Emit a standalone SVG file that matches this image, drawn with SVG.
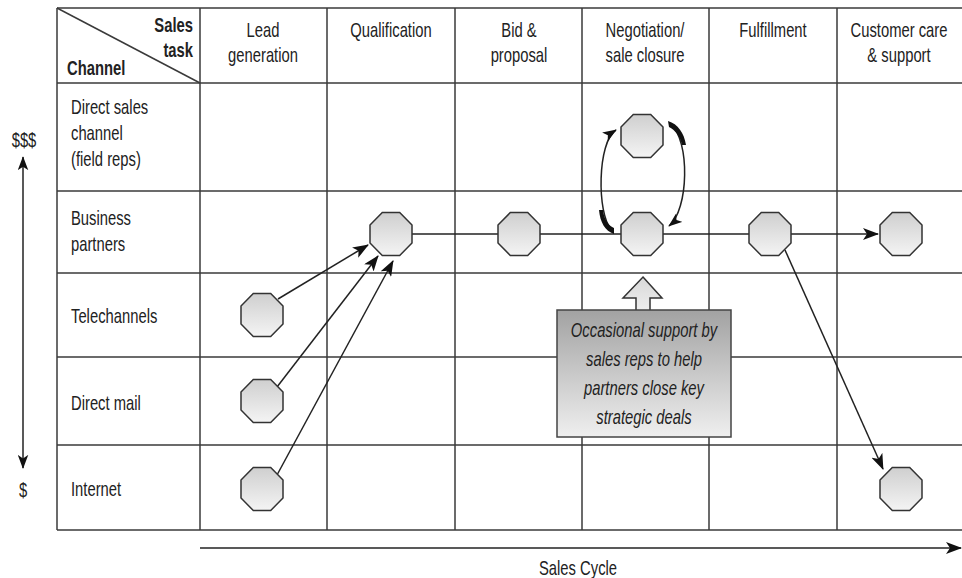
<svg xmlns="http://www.w3.org/2000/svg" xmlns:xlink="http://www.w3.org/1999/xlink" width="962" height="578" viewBox="0 0 962 578">
<style>
  .t { font-family: "Liberation Sans", Arial, sans-serif; font-size: 20px; fill: #222; }
  .b { font-weight: bold; }
  .c { text-anchor: middle; }
  .r { text-anchor: end; }
  .i { font-style: italic; }
  .grid { stroke: #3a3a3a; stroke-width: 1.5; fill: none; }
  .conn { stroke: #222; stroke-width: 1.5; fill: none; }
  .oct { fill: url(#octGrad); stroke: #333; stroke-width: 1.5; }
</style>
<defs>
  <linearGradient id="octGrad" x1="0" y1="0" x2="0" y2="1">
    <stop offset="0" stop-color="#cfcfcf"/>
    <stop offset="1" stop-color="#f4f4f4"/>
  </linearGradient>
  <linearGradient id="boxGrad" x1="0" y1="0" x2="0" y2="1">
    <stop offset="0" stop-color="#a2a2a2"/>
    <stop offset="1" stop-color="#efefef"/>
  </linearGradient>
  <linearGradient id="arrGrad" x1="0" y1="0" x2="0" y2="1">
    <stop offset="0" stop-color="#d8d8d8"/>
    <stop offset="1" stop-color="#eeeeee"/>
  </linearGradient>
  <polygon id="octagon" class="oct" points="-8.7,-21.5 8.7,-21.5 21,-8.9 21,8.9 8.7,21.5 -8.7,21.5 -21,8.9 -21,-8.9"/>
  <marker id="ah" viewBox="0 0 16 12" refX="15" refY="6" markerWidth="16" markerHeight="12" markerUnits="userSpaceOnUse" orient="auto-start-reverse">
    <path d="M0,0 L16,6 L0,12 L4,6 Z" fill="#111"/>
  </marker>
  <marker id="ahs" viewBox="0 0 16 12" refX="15" refY="6" markerWidth="14" markerHeight="11" markerUnits="userSpaceOnUse" orient="auto-start-reverse">
    <path d="M0,0 L16,6 L0,12 L4,6 Z" fill="#111"/>
  </marker>
</defs>

<rect x="0" y="0" width="962" height="578" fill="#fff"/>

<g id="grid">
  <line class="grid" x1="57" y1="8" x2="962" y2="8"/>
  <line class="grid" x1="57" y1="83" x2="962" y2="83"/>
  <line class="grid" x1="57" y1="191" x2="962" y2="191"/>
  <line class="grid" x1="57" y1="273" x2="962" y2="273"/>
  <line class="grid" x1="57" y1="357" x2="962" y2="357"/>
  <line class="grid" x1="57" y1="445" x2="962" y2="445"/>
  <line class="grid" x1="57" y1="530" x2="962" y2="530" stroke-width="2"/>
  <line class="grid" x1="57" y1="8" x2="57" y2="530"/>
  <line class="grid" x1="200" y1="8" x2="200" y2="530"/>
  <line class="grid" x1="327" y1="8" x2="327" y2="530"/>
  <line class="grid" x1="455" y1="8" x2="455" y2="530"/>
  <line class="grid" x1="582" y1="8" x2="582" y2="530"/>
  <line class="grid" x1="709" y1="8" x2="709" y2="530"/>
  <line class="grid" x1="837" y1="8" x2="837" y2="530"/>
  <line class="grid" x1="57" y1="8" x2="200" y2="83" stroke-width="1.2"/>
</g>

<g id="headers">
  <text class="t b r" transform="translate(193,32) scale(0.74,1)">Sales</text>
  <text class="t b r" transform="translate(193,57) scale(0.74,1)">task</text>
  <text class="t b" transform="translate(67,75) scale(0.74,1)">Channel</text>
  <text class="t c" transform="translate(263,37) scale(0.74,1)">Lead</text>
  <text class="t c" transform="translate(263,62) scale(0.74,1)">generation</text>
  <text class="t c" transform="translate(391,37) scale(0.74,1)">Qualification</text>
  <text class="t c" transform="translate(519,37) scale(0.74,1)">Bid &amp;</text>
  <text class="t c" transform="translate(519,62) scale(0.74,1)">proposal</text>
  <text class="t c" transform="translate(645,37) scale(0.74,1)">Negotiation/</text>
  <text class="t c" transform="translate(645,62) scale(0.74,1)">sale closure</text>
  <text class="t c" transform="translate(773,37) scale(0.74,1)">Fulfillment</text>
  <text class="t c" transform="translate(899,37) scale(0.74,1)">Customer care</text>
  <text class="t c" transform="translate(899,62) scale(0.74,1)">&amp; support</text>
</g>

<g id="rowlabels">
  <text class="t" transform="translate(71,114) scale(0.74,1)">Direct sales</text>
  <text class="t" transform="translate(71,140) scale(0.74,1)">channel</text>
  <text class="t" transform="translate(71,166) scale(0.74,1)">(field reps)</text>
  <text class="t" transform="translate(71,225) scale(0.74,1)">Business</text>
  <text class="t" transform="translate(71,251) scale(0.74,1)">partners</text>
  <text class="t" transform="translate(71,323) scale(0.74,1)">Telechannels</text>
  <text class="t" transform="translate(71,410) scale(0.74,1)">Direct mail</text>
  <text class="t" transform="translate(71,496) scale(0.74,1)">Internet</text>
</g>

<g id="axes">
  <text class="t c" transform="translate(24,147) scale(0.74,1)">$$$</text>
  <text class="t c" transform="translate(23,497) scale(0.74,1)">$</text>
  <line class="conn" x1="23" y1="157" x2="23" y2="468" marker-start="url(#ahs)" marker-end="url(#ahs)"/>
  <line class="conn" x1="200" y1="548" x2="961" y2="548" stroke-width="2" marker-end="url(#ah)"/>
  <text class="t c" transform="translate(578,575) scale(0.74,1)">Sales Cycle</text>
</g>

<g id="connectors">
  <line class="conn" x1="412" y1="234" x2="878" y2="234" marker-end="url(#ah)"/>
  <line class="conn" x1="278" y1="299" x2="368" y2="245" marker-end="url(#ah)"/>
  <line class="conn" x1="277" y1="387" x2="378" y2="256" marker-end="url(#ah)"/>
  <line class="conn" x1="277" y1="475" x2="393" y2="261" marker-end="url(#ah)"/>
  <line class="conn" x1="785" y1="250" x2="883" y2="469" marker-end="url(#ah)"/>
  <path class="conn" d="M611,229 C597,214 597,142 616,130" stroke-width="2" marker-end="url(#ahs)"/>
  <path d="M614,234 C605,231 600,222 599,210 L603,210 C604,220 609,226 614,228 Z" fill="#111"/>
  <path class="conn" d="M671,125 C690,140 689,210 669,226" stroke-width="2" marker-end="url(#ahs)"/>
  <path d="M668,121 C678,124 684,133 686,145 L682,145 C680,136 675,130 669,127 Z" fill="#111"/>
</g>

<g id="node-lead-tele"><use xlink:href="#octagon" x="262" y="315"/></g>
<g id="node-lead-mail"><use xlink:href="#octagon" x="262" y="401"/></g>
<g id="node-lead-internet"><use xlink:href="#octagon" x="262" y="489"/></g>
<g id="node-qual-partners"><use xlink:href="#octagon" x="391" y="234"/></g>
<g id="node-bid-partners"><use xlink:href="#octagon" x="519" y="234"/></g>
<g id="node-neg-direct"><use xlink:href="#octagon" x="642" y="136"/></g>
<g id="node-neg-partners"><use xlink:href="#octagon" x="642" y="234"/></g>
<g id="node-fulfill-partners"><use xlink:href="#octagon" x="770" y="234"/></g>
<g id="node-care-partners"><use xlink:href="#octagon" x="901" y="234"/></g>
<g id="node-care-internet"><use xlink:href="#octagon" x="901" y="489"/></g>

<g id="callout">
  <path d="M643,277 L662,298 L650,298 L650,311 L636,311 L636,298 L623,298 Z" fill="url(#arrGrad)" stroke="#333" stroke-width="1.5"/>
  <rect x="557" y="310" width="174" height="127" fill="url(#boxGrad)" stroke="#444" stroke-width="1.5"/>
  <text class="t c i" transform="translate(644,337) scale(0.74,1)">Occasional support by</text>
  <text class="t c i" transform="translate(644,366) scale(0.74,1)">sales reps to help</text>
  <text class="t c i" transform="translate(644,395) scale(0.74,1)">partners close key</text>
  <text class="t c i" transform="translate(644,424) scale(0.74,1)">strategic deals</text>
</g>
</svg>
